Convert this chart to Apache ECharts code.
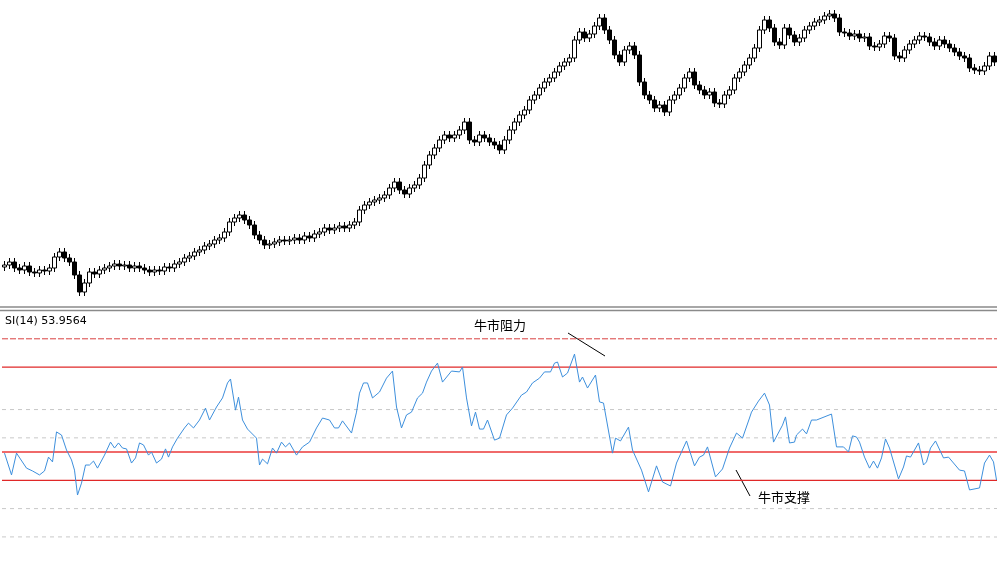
<!DOCTYPE html>
<html><head><meta charset="utf-8">
<script src="https://cdn.jsdelivr.net/npm/echarts@6/dist/echarts.min.js"></script>
<style>html,body{margin:0;padding:0;background:#fff}#c{width:997px;height:581px}</style>
</head><body><div id="c"></div>
<script>
// closing prices (arbitrary price units), one per bar
const closes = [35,38,32,30,34,28,27,30,29,32,43,48,42,38,25,8,17,28,26,30,
32,34,36,34,35,32,34,32,30,28,30,29,33,32,36,38,42,44,48,50,
54,56,60,62,68,78,82,85,80,75,65,60,55,56,58,60,59,60,62,60,
64,62,66,68,72,70,72,74,72,75,78,90,95,98,100,102,105,112,118,110,
106,112,115,122,135,145,152,160,165,162,165,170,178,160,158,165,162,158,155,150,
160,170,178,185,190,200,205,212,218,222,228,234,238,242,260,268,262,266,274,282,
270,260,245,238,250,254,245,218,205,200,192,195,188,200,205,212,222,228,215,210,
205,208,197,196,205,210,222,228,235,242,252,270,280,272,258,255,272,265,258,262,
270,274,278,280,284,286,282,268,267,264,266,262,263,254,253,256,264,262,244,242,
250,256,260,264,263,258,254,260,256,252,248,244,242,232,230,229,234,244,238];
const firstOpen = 33;
const wick = 4;
// RSI(14) readings: bar position and value
const rsiBar = [0,1.4,2.4,2.8,4.4,5.6,7,8,8.8,9.6,10.4,11.4,12.4,13.4,14,14.6,15.4,16.2,17,17.8,18.6,20,21.2,22,22.8,23.6,24.4,25.4,26.2,27,27.8,28.8,29.4,30.4,31.4,32.2,32.8,33.6,34.6,36,36.8,37.8,39,40.2,41,42.4,43.6,44.6,45.2,46.2,46.8,47.6,48.6,49,50.4,51,51.6,52.6,53.6,54.4,55.4,56.2,57,58.4,59.6,61,62.4,63.6,65,66,66.8,67.6,69.4,70.4,71,71.8,72.6,73.6,75,76.4,77.6,78.4,79.4,80.4,81.4,82.6,83.6,84.4,85.4,86.6,87.6,89.4,91,91.6,92.4,93.4,94.2,95,95.8,96.6,98,99,100.4,101.6,103.4,104.4,105.6,107,108,109.2,110,110.6,111.6,112.6,114,115,115.6,116.6,118.2,119,119.8,121.6,122.2,123.2,124.8,125.6,127.4,128.8,130.4,131.6,133.2,134.4,136.4,138,139,139.8,140.6,142.2,143.6,145,146.4,147.6,149,149.4,150.8,152,153,153.8,155.6,156.2,157,158,158.4,159.6,160.4,161.4,162.4,165.4,166.4,167.8,168.8,169.6,170.4,171,172,173,173.8,174.6,175.4,176.2,177,178.8,179.8,180.4,181.2,182.8,183.8,184.4,185.2,186.2,187.8,188.8,191,192,193,195,196,197,197.8,198.4];
const rsiVal = [49.6,41.9,49.6,49.6,44.3,43.3,41.9,43.3,48.2,46.5,57.1,56,50.7,47.2,43.6,34.8,39,45.4,45.4,46.8,44.3,48.9,53.5,51.4,53.2,51.4,51.1,46.1,47.9,53.2,52.5,48.9,50,46.1,47.5,51.1,48.2,51.8,54.9,58.5,60.2,58.5,61.3,65.5,61.3,65.9,69.1,74.4,75.8,64.8,69.4,61.3,58.1,58.5,54.9,45.4,47.5,45.8,51.4,49.6,53.5,51.8,53.2,48.9,51.8,53.5,58.5,62,61.3,58.5,58.5,61,56.7,64.1,70.8,74.4,74.4,69.1,71.2,76.1,78.6,65.9,58.5,63.1,64.1,69.1,70.8,74.7,78.6,81.4,74.7,78.6,78.3,80,69.1,59.2,64.1,58.1,58.1,61.3,54.2,54.9,63.1,65.5,70.1,71.2,74.4,76.1,78.3,78.3,81.4,81.8,76.5,77.9,84.6,74.7,76.5,72.6,77.2,67.7,67.3,49.6,54.9,53.9,58.8,50.7,43.6,35.9,45.1,39.4,38,46.1,53.9,45.1,48.2,48.9,51.8,41.2,44,51.4,56.7,54.9,62,64.1,68,70.8,66.6,53.5,59.5,62.4,53.2,53.5,56,58.1,56.4,61.3,61.3,63.4,51.8,51.8,50,55.7,55.3,53.5,48.2,44.3,46.8,44.3,47.9,54.6,51.4,40.5,44.7,48.6,48.2,53.2,45.4,46.5,51.4,53.9,47.9,48.2,43.6,43.3,36.6,37.3,46.1,48.9,46.5,40.1];
const redLevels = [80,50,40];
const redDashLevel = 90;
const greyLevels = [65,55,30,20];
const rsiLabel = 'SI(14) 53.9564';

const cats = closes.map((_, i) => i);
const ohlc = closes.map((c, i) => {
  const o = i === 0 ? firstOpen : closes[i - 1];
  return [o, c, Math.min(o, c) - wick, Math.max(o, c) + wick];
});
const rsi = rsiBar.map((b, i) => [b, rsiVal[i]]);
const level = (v, color, type, width, z) => ({
  type: 'line', xAxisIndex: 1, yAxisIndex: 1, silent: true, symbol: 'none', z,
  data: [[-0.5, v], [198.5, v]], lineStyle: {color, type, width}
});

const chart = echarts.init(document.getElementById('c'));
chart.setOption({
  animation: false,
  grid: [
    {left: 2, width: 995, top: 0, height: 300},
    {left: 2, width: 995, top: 324.65, height: 226.4}
  ],
  xAxis: [
    {type: 'category', data: cats, gridIndex: 0, show: false, boundaryGap: true},
    {type: 'value', gridIndex: 1, min: -0.5, max: 198.5, show: false}
  ],
  yAxis: [
    {type: 'value', gridIndex: 0, min: 0, max: 300, show: false},
    {type: 'value', gridIndex: 1, min: 15, max: 95, show: false}
  ],
  series: [
    {type: 'candlestick', xAxisIndex: 0, yAxisIndex: 0, data: ohlc, barWidth: 4,
     itemStyle: {color: '#ffffff', color0: '#000000', borderColor: '#000000', borderColor0: '#000000', borderWidth: 1}},
    ...greyLevels.map(v => level(v, '#c8c8c8', [4, 4], 1, 1)),
    level(redDashLevel, '#d94040', [6, 2], 1, 1),
    level(redLevels[0], '#e02828', 'solid', 1.3, 1),
    level(redLevels[1], '#f06a6a', 'solid', 2.2, 1),
    level(redLevels[2], '#e02828', 'solid', 1.3, 1),
    {type: 'line', xAxisIndex: 1, yAxisIndex: 1, data: rsi, showSymbol: false, symbol: 'none', z: 5,
     lineStyle: {color: '#3d8fdc', width: 1}}
  ],
  graphic: [
    {type: 'line', shape: {x1: 0, y1: 307, x2: 997, y2: 307}, style: {stroke: '#8a8a8a', lineWidth: 1.5}},
    {type: 'line', shape: {x1: 0, y1: 310.5, x2: 997, y2: 310.5}, style: {stroke: '#8a8a8a', lineWidth: 1.5}},
    {type: 'text', left: 5, top: 316, style: {text: rsiLabel, font: '11px "DejaVu Sans", sans-serif', fill: '#000'}},
    {type: 'text', left: 474, top: 319, style: {text: '牛市阻力', font: '13px "Noto Sans CJK SC", sans-serif', fill: '#000'}},
    {type: 'line', shape: {x1: 568, y1: 333, x2: 605, y2: 356}, style: {stroke: '#000', lineWidth: 1}},
    {type: 'text', left: 758, top: 491, style: {text: '牛市支撑', font: '13px "Noto Sans CJK SC", sans-serif', fill: '#000'}},
    {type: 'line', shape: {x1: 736, y1: 470, x2: 750, y2: 496}, style: {stroke: '#000', lineWidth: 1}}
  ]
});
</script></body></html>
